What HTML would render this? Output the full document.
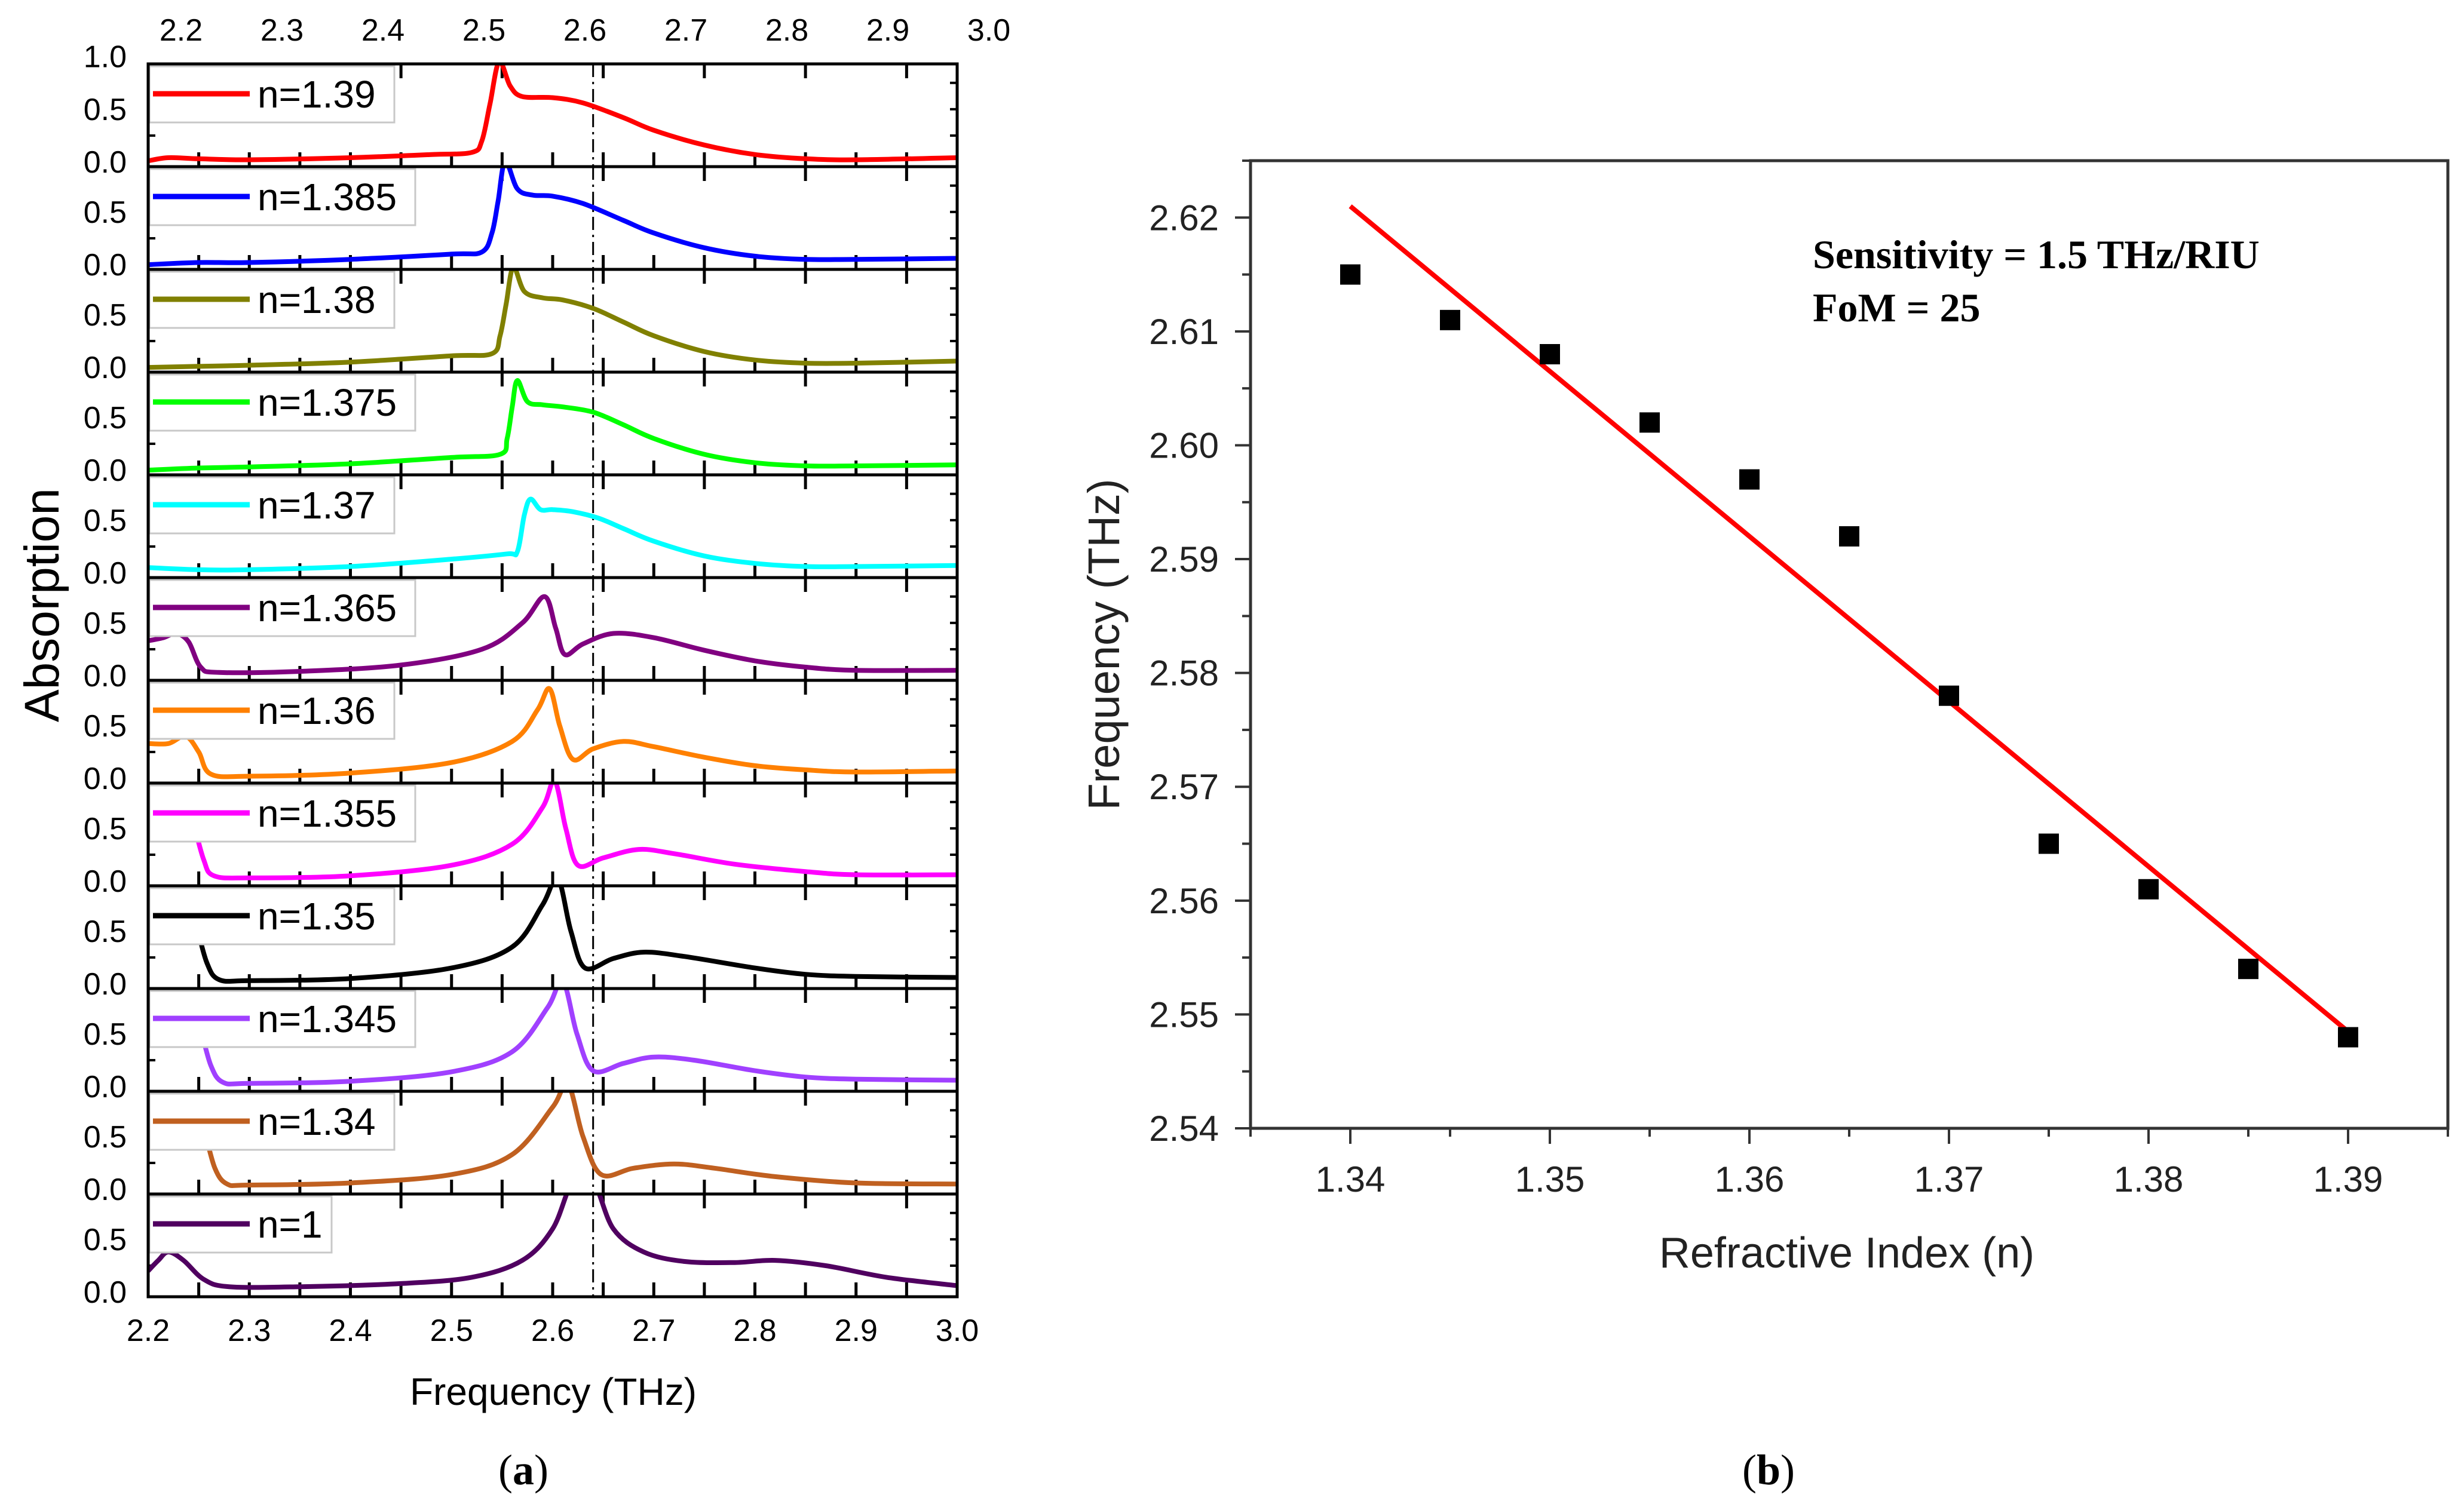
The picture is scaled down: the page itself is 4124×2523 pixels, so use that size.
<!DOCTYPE html>
<html><head><meta charset="utf-8"><style>
html,body{margin:0;padding:0;background:#fff}
svg{display:block}
text{font-family:"Liberation Sans",sans-serif}
</style></head><body>
<svg id="fig" width="4124" height="2523" viewBox="0 0 4124 2523" xmlns="http://www.w3.org/2000/svg">
<g id="pa"></g>
<g id="pb"></g>
<text x="876" y="2485" font-size="72" text-anchor="middle" style="font-family:'Liberation Serif',serif">(<tspan font-weight="bold">a</tspan>)</text>
<text x="2960" y="2485" font-size="72" text-anchor="middle" style="font-family:'Liberation Serif',serif">(<tspan font-weight="bold">b</tspan>)</text>
</svg>
<script>
// ---------- Panel (a) data ----------
const seriesLabels = ["n=1.39","n=1.385","n=1.38","n=1.375","n=1.37","n=1.365","n=1.36","n=1.355","n=1.35","n=1.345","n=1.34","n=1"];
const seriesColors = ["#ff0000","#0000ff","#808000","#00ff00","#00ffff","#800080","#ff8000","#ff00ff","#000000","#a040ff","#c06020","#500060"];
const s139 = [[2.2,0.01],[2.22,0.04],[2.25,0.03],[2.3,0.02],[2.4,0.04],[2.48,0.07],[2.52,0.09],[2.53,0.2],[2.538,0.55],[2.547,0.95],[2.558,0.72],[2.57,0.62],[2.6,0.61],[2.63,0.56],[2.67,0.42],[2.7,0.3],[2.75,0.16],[2.8,0.07],[2.85,0.03],[2.9,0.02],[3.0,0.04]];
const s1385 = [[2.2,0.0],[2.25,0.02],[2.3,0.02],[2.4,0.05],[2.5,0.1],[2.53,0.12],[2.54,0.3],[2.546,0.6],[2.553,0.98],[2.565,0.72],[2.58,0.66],[2.6,0.65],[2.63,0.58],[2.67,0.42],[2.7,0.3],[2.75,0.16],[2.8,0.08],[2.85,0.05],[2.9,0.05],[3.0,0.06]];
const s138 = [[2.2,0.0],[2.25,0.01],[2.3,0.02],[2.4,0.05],[2.5,0.11],[2.54,0.13],[2.548,0.3],[2.554,0.6],[2.561,0.95],[2.572,0.72],[2.59,0.66],[2.61,0.64],[2.64,0.56],[2.67,0.43],[2.7,0.3],[2.75,0.15],[2.8,0.07],[2.85,0.04],[2.9,0.04],[3.0,0.06]];
const s1375 = [[2.2,0.0],[2.25,0.02],[2.3,0.03],[2.4,0.06],[2.5,0.12],[2.548,0.15],[2.555,0.3],[2.56,0.6],[2.565,0.85],[2.575,0.65],[2.59,0.62],[2.61,0.6],[2.64,0.55],[2.67,0.43],[2.7,0.3],[2.75,0.15],[2.8,0.07],[2.85,0.04],[2.9,0.04],[3.0,0.05]];
const s137 = [[2.2,0.05],[2.25,0.03],[2.3,0.03],[2.4,0.06],[2.5,0.13],[2.555,0.18],[2.565,0.2],[2.572,0.55],[2.578,0.7],[2.588,0.6],[2.6,0.6],[2.62,0.58],[2.645,0.52],[2.67,0.42],[2.7,0.3],[2.75,0.16],[2.8,0.09],[2.85,0.06],[2.9,0.06],[3.0,0.07]];
const s1365 = [[2.2,0.33],[2.215,0.36],[2.228,0.4],[2.24,0.32],[2.252,0.08],[2.27,0.03],[2.35,0.04],[2.45,0.1],[2.53,0.25],[2.57,0.5],[2.592,0.75],[2.603,0.45],[2.612,0.2],[2.63,0.3],[2.66,0.4],[2.7,0.36],[2.75,0.24],[2.8,0.14],[2.85,0.08],[2.9,0.05],[3.0,0.05]];
const s136 = [[2.2,0.33],[2.22,0.33],[2.237,0.4],[2.25,0.25],[2.262,0.04],[2.3,0.02],[2.4,0.05],[2.5,0.15],[2.56,0.35],[2.585,0.65],[2.597,0.85],[2.607,0.5],[2.62,0.18],[2.64,0.28],[2.67,0.35],[2.7,0.3],[2.75,0.2],[2.8,0.12],[2.85,0.08],[2.9,0.06],[3.0,0.07]];
const s1355 = [[2.245,0.55],[2.255,0.2],[2.265,0.05],[2.3,0.03],[2.4,0.05],[2.5,0.15],[2.56,0.35],[2.59,0.7],[2.602,0.95],[2.613,0.5],[2.625,0.15],[2.65,0.22],[2.685,0.3],[2.72,0.26],[2.78,0.16],[2.85,0.09],[2.9,0.06],[3.0,0.06]];
const s135 = [[2.248,0.55],[2.258,0.2],[2.27,0.04],[2.3,0.03],[2.4,0.05],[2.5,0.15],[2.56,0.35],[2.59,0.75],[2.605,1.0],[2.618,0.5],[2.632,0.15],[2.66,0.24],[2.69,0.3],[2.73,0.26],[2.8,0.15],[2.85,0.09],[2.9,0.07],[3.0,0.06]];
const s1345 = [[2.252,0.55],[2.262,0.2],[2.274,0.04],[2.3,0.03],[2.4,0.05],[2.5,0.14],[2.56,0.33],[2.595,0.75],[2.61,1.0],[2.624,0.5],[2.64,0.15],[2.67,0.22],[2.7,0.28],[2.74,0.25],[2.8,0.15],[2.85,0.09],[2.9,0.07],[3.0,0.06]];
const s134 = [[2.256,0.55],[2.266,0.2],[2.278,0.05],[2.3,0.04],[2.4,0.06],[2.5,0.14],[2.56,0.33],[2.6,0.78],[2.615,1.0],[2.63,0.5],[2.648,0.14],[2.68,0.2],[2.72,0.24],[2.76,0.2],[2.82,0.12],[2.9,0.06],[3.0,0.05]];
const s1 = [[2.2,0.2],[2.21,0.3],[2.22,0.38],[2.235,0.3],[2.255,0.12],[2.28,0.05],[2.35,0.05],[2.45,0.08],[2.52,0.14],[2.57,0.3],[2.6,0.6],[2.62,1.05],[2.64,1.05],[2.66,0.6],[2.69,0.38],[2.73,0.29],[2.78,0.28],[2.82,0.3],[2.87,0.25],[2.93,0.14],[3.0,0.06]];
const seriesData = [s139,s1385,s138,s1375,s137,s1365,s136,s1355,s135,s1345,s134,s1];
const xTicksA = [2.2,2.3,2.4,2.5,2.6,2.7,2.8,2.9,3.0];
const dashFreq = 2.64;

// ---------- Panel (b) data ----------
const refIndex = [1.34,1.345,1.35,1.355,1.36,1.365,1.37,1.375,1.38,1.385,1.39];
const resFreq = [2.615,2.611,2.608,2.602,2.597,2.592,2.578,2.565,2.561,2.554,2.548];
const fitLine = [[1.34,2.621],[1.39,2.5485]];
const xTicksB = [1.34,1.35,1.36,1.37,1.38,1.39];
const yTicksB = [2.54,2.55,2.56,2.57,2.58,2.59,2.60,2.61,2.62];

const NS="http://www.w3.org/2000/svg";
function mk(parent,tag,attrs,txt){const e=document.createElementNS(NS,tag);for(const k in attrs)e.setAttribute(k,attrs[k]);if(txt!==undefined)e.textContent=txt;parent.appendChild(e);return e;}

// ---- Panel A ----
const pa=document.getElementById('pa');
const AL=248,AR=1602,AT=107,AB=2171;
const subH=(AB-AT)/12;
const ax=f=>AL+(f-2.2)/0.8*(AR-AL);
const YMIN=-0.045,YMAX=0.93;
function crPath(pts){
  let d="M"+pts[0][0].toFixed(1)+","+pts[0][1].toFixed(1);
  for(let i=0;i<pts.length-1;i++){
    const p0=pts[Math.max(0,i-1)],p1=pts[i],p2=pts[i+1],p3=pts[Math.min(pts.length-1,i+2)];
    const c1=[p1[0]+(p2[0]-p0[0])/6,p1[1]+(p2[1]-p0[1])/6];
    const c2=[p2[0]-(p3[0]-p1[0])/6,p2[1]-(p3[1]-p1[1])/6];
    d+=" C"+c1[0].toFixed(1)+","+c1[1].toFixed(1)+" "+c2[0].toFixed(1)+","+c2[1].toFixed(1)+" "+p2[0].toFixed(1)+","+p2[1].toFixed(1);
  }
  return d;
}
const defs=mk(pa,'defs',{});
for(let i=0;i<12;i++){
  const top=AT+i*subH, bot=top+subH;
  const ay=v=>bot-(v-YMIN)/(YMAX-YMIN)*subH;
  const cp=mk(defs,'clipPath',{id:'clip'+i});
  mk(cp,'rect',{x:AL,y:top,width:AR-AL,height:subH});
  const g=mk(pa,'g',{});
  
  
  // ticks
  for(let k=0;k<=16;k++){
    const f=2.2+k*0.05, x=ax(f);
    mk(g,'line',{x1:x,y1:bot,x2:x,y2:bot-24,stroke:'#000','stroke-width':5});
    if(k%2===1) mk(g,'line',{x1:x,y1:top,x2:x,y2:top+24,stroke:'#000','stroke-width':5});
  }
  [0.25,0.5,0.75].forEach(v=>{const y=ay(v);mk(g,'line',{x1:AL,y1:y,x2:AL+12,y2:y,stroke:'#000','stroke-width':4});mk(g,'line',{x1:AR,y1:y,x2:AR-12,y2:y,stroke:'#000','stroke-width':4});});
  // y labels
  const l0=mk(g,'text',{x:212,y:ay(0)+18,'font-size':52,'text-anchor':'end'},'0.0');
  
  
  const l5=mk(g,'text',{x:212,y:ay(0.5)+18,'font-size':52,'text-anchor':'end'},'0.5');
  
  
  if(i===0){const l1=mk(g,'text',{x:212,y:ay(1.0)+18,'font-size':52,'text-anchor':'end'},'1.0');
    
    }
  // dashed line
  mk(g,'line',{x1:ax(dashFreq),y1:top,x2:ax(dashFreq),y2:bot,stroke:'#000','stroke-width':3,'stroke-dasharray':'22,8,4,8'});
  // curve
  const pts=seriesData[i].map(p=>[ax(p[0]),ay(p[1])]);
  const path=mk(g,'path',{d:crPath(pts),fill:'none',stroke:seriesColors[i],'stroke-width':8,'clip-path':'url(#clip'+i+')','stroke-linejoin':'round'});
  
  
  // legend
  const lw=seriesLabels[i].length*35+200;
  const lg=mk(g,'g',{});
  
  
  mk(lg,'rect',{x:AL+2,y:top+4,width:lw,height:94,fill:'#fff',stroke:'#c8c8c8','stroke-width':3});
  mk(lg,'line',{x1:AL+8,y1:top+50,x2:AL+170,y2:top+50,stroke:seriesColors[i],'stroke-width':9});
  mk(lg,'text',{x:AL+183,y:top+73,'font-size':64},seriesLabels[i]);
  // frame
  mk(g,'rect',{x:AL,y:top,width:AR-AL,height:subH,fill:'none',stroke:'#000','stroke-width':5});
}
// bottom x labels
xTicksA.forEach(f=>{const t=mk(pa,'text',{x:ax(f),y:2245,'font-size':52,'text-anchor':'middle'},f.toFixed(1));
  
  });
// top x labels (offset as in source figure)
xTicksA.forEach((f,k)=>{const t=mk(pa,'text',{x:303+k*169,y:68,'font-size':52,'text-anchor':'middle'},f.toFixed(1));
  
  });
const xt=mk(pa,'text',{x:926,y:2352,'font-size':64,'text-anchor':'middle'},'Frequency (THz)');


const yt=mk(pa,'text',{x:0,y:0,'font-size':82,'text-anchor':'middle',transform:'translate(98,1013) rotate(-90)'},'Absorption');



// ---- Panel B ----
const pb=document.getElementById('pb');
const BL=2093,BR=4097,BT=269,BB=1889;
const X0=1.335,X1=1.395,Y0=2.54,Y1=2.625;
const bx=n=>BL+(n-X0)/(X1-X0)*(BR-BL);
const by=f=>BB-(f-Y0)/(Y1-Y0)*(BB-BT);
const frame=mk(pb,'rect',{x:BL,y:BT,width:BR-BL,height:BB-BT,fill:'none',stroke:'#333','stroke-width':5});


for(let v=2.54;v<=2.6251;v+=0.005){const y=by(v);const major=Math.abs(Math.round(v*100)-v*100)<1e-6;
  mk(pb,'line',{x1:BL,y1:y,x2:BL-(major?26:14),y2:y,stroke:'#333','stroke-width':4});}
for(let v=1.335;v<=1.3951;v+=0.005){const x=bx(v);const major=Math.abs(Math.round(v*100)-v*100)<1e-6;
  mk(pb,'line',{x1:x,y1:BB,x2:x,y2:BB+(major?26:14),stroke:'#333','stroke-width':4});}
yTicksB.forEach(v=>{const t=mk(pb,'text',{x:2040,y:by(v)+21,'font-size':60,'text-anchor':'end',fill:'#222'},v.toFixed(2));
  
  });
xTicksB.forEach(v=>{const t=mk(pb,'text',{x:bx(v),y:1995,'font-size':60,'text-anchor':'middle',fill:'#222'},v.toFixed(2));
  
  });
const bxt=mk(pb,'text',{x:3091,y:2122,'font-size':72,'text-anchor':'middle',fill:'#222'},'Refractive Index (n)');


const byt=mk(pb,'text',{x:0,y:0,'font-size':74,'text-anchor':'middle',fill:'#222',transform:'translate(1873,1079) rotate(-90)'},'Frequency (THz)');


const fl=mk(pb,'line',{x1:bx(fitLine[0][0]),y1:by(fitLine[0][1]),x2:bx(fitLine[1][0]),y2:by(fitLine[1][1]),stroke:'#ff0000','stroke-width':8});


refIndex.forEach((n,i)=>{const s=34;const r=mk(pb,'rect',{x:bx(n)-s/2,y:by(resFreq[i])-s/2,width:s,height:s,fill:'#000'});
  
  });
const ann=mk(pb,'text',{x:3034,y:449,'font-size':68,'font-weight':'bold',style:"font-family:'Liberation Serif',serif"},'Sensitivity = 1.5 THz/RIU');


const ann2=mk(pb,'text',{x:3034,y:538,'font-size':68,'font-weight':'bold',style:"font-family:'Liberation Serif',serif"},'FoM = 25');


</script>
</body></html>
